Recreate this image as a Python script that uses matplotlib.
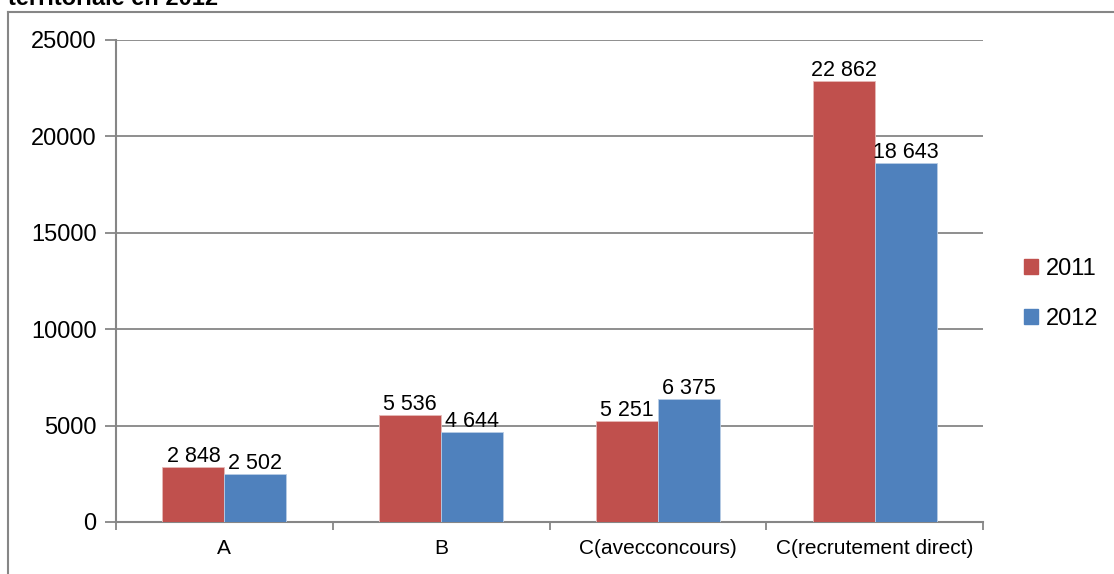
import matplotlib
matplotlib.use("Agg")
import matplotlib.pyplot as plt
import matplotlib.patches as mpatches
from matplotlib.lines import Line2D
import numpy as np

categories = ["A", "B", "C(avecconcours)", "C(recrutement direct)"]
series_names = ["2011", "2012"]
values_2011 = [2848, 5536, 5251, 22862]
values_2012 = [2502, 4644, 6375, 18643]
label_2011 = ["2 848", "5 536", "5 251", "22 862"]
label_2012 = ["2 502", "4 644", "6 375", "18 643"]

red = "#C0504D"
blue = "#4F81BD"
gray = "#868686"

plt.rcParams["font.family"] = ["Liberation Sans", "DejaVu Sans"]

fig = plt.figure(figsize=(11.14, 5.74), dpi=100)
ax = fig.add_axes([116/1114, 1-522/574, (983-116)/1114, (522-40)/574])

# ---------- bars ----------
x = np.arange(len(categories))
w = 0.286
b1 = ax.bar(x - w/2, values_2011, w, color=red, edgecolor="#E6B9B8", linewidth=0.6, zorder=3)
b2 = ax.bar(x + w/2, values_2012, w, color=blue, edgecolor="#B9CDE5", linewidth=0.6, zorder=3)

for bars, labs in ((b1, label_2011), (b2, label_2012)):
    for r, t in zip(bars, labs):
        ax.annotate(t, (r.get_x() + r.get_width()/2, r.get_height()),
                    xytext=(0, 0), textcoords="offset points",
                    ha="center", va="bottom", fontsize=15.5, zorder=4)

# ---------- axes ----------
ax.set_xlim(-0.5, len(categories) - 0.5)
ax.set_ylim(0, 25000)
ax.set_yticks(range(0, 25001, 5000))
ax.set_yticklabels([str(v) for v in range(0, 25001, 5000)], fontsize=17)
ax.yaxis.grid(True, color=gray, linewidth=1.3, zorder=0)
ax.set_axisbelow(True)

ax.set_xticks(np.arange(-0.5, len(categories), 1.0))
ax.set_xticklabels([])
ax.set_xticks(x, minor=True)
ax.set_xticklabels(categories, minor=True, fontsize=15)
ax.tick_params(axis="x", which="major", length=6, color=gray, width=1.3)
ax.tick_params(axis="x", which="minor", length=0, pad=12)
ax.tick_params(axis="y", length=8, color=gray, width=1.3, pad=6)

for s in ("top", "right"):
    ax.spines[s].set_visible(False)
for s in ("left", "bottom"):
    ax.spines[s].set_color(gray)
    ax.spines[s].set_linewidth(1.5)

# ---------- legend ----------
handles = [mpatches.Patch(color=red, label=series_names[0]),
           mpatches.Patch(color=blue, label=series_names[1])]
fig.legend(handles=handles, loc="center left", bbox_to_anchor=(1003/1114, 1-294/574),
           frameon=False, fontsize=17, handlelength=0.6, handleheight=0.6,
           handletextpad=0.3, labelspacing=1.2)

# ---------- frame + cut title ----------
fig.add_artist(Line2D([8/1114, 8/1114], [0, 1-12/574], transform=fig.transFigure, color=gray, linewidth=1.5))
fig.add_artist(Line2D([8/1114, 1], [1-12/574, 1-12/574], transform=fig.transFigure, color=gray, linewidth=1.5))
fig.text(8/1114, 1-5/574, "territoriale en 2012", fontsize=17, weight="bold", ha="left", va="baseline")

fig.savefig("out.png", dpi=100)
